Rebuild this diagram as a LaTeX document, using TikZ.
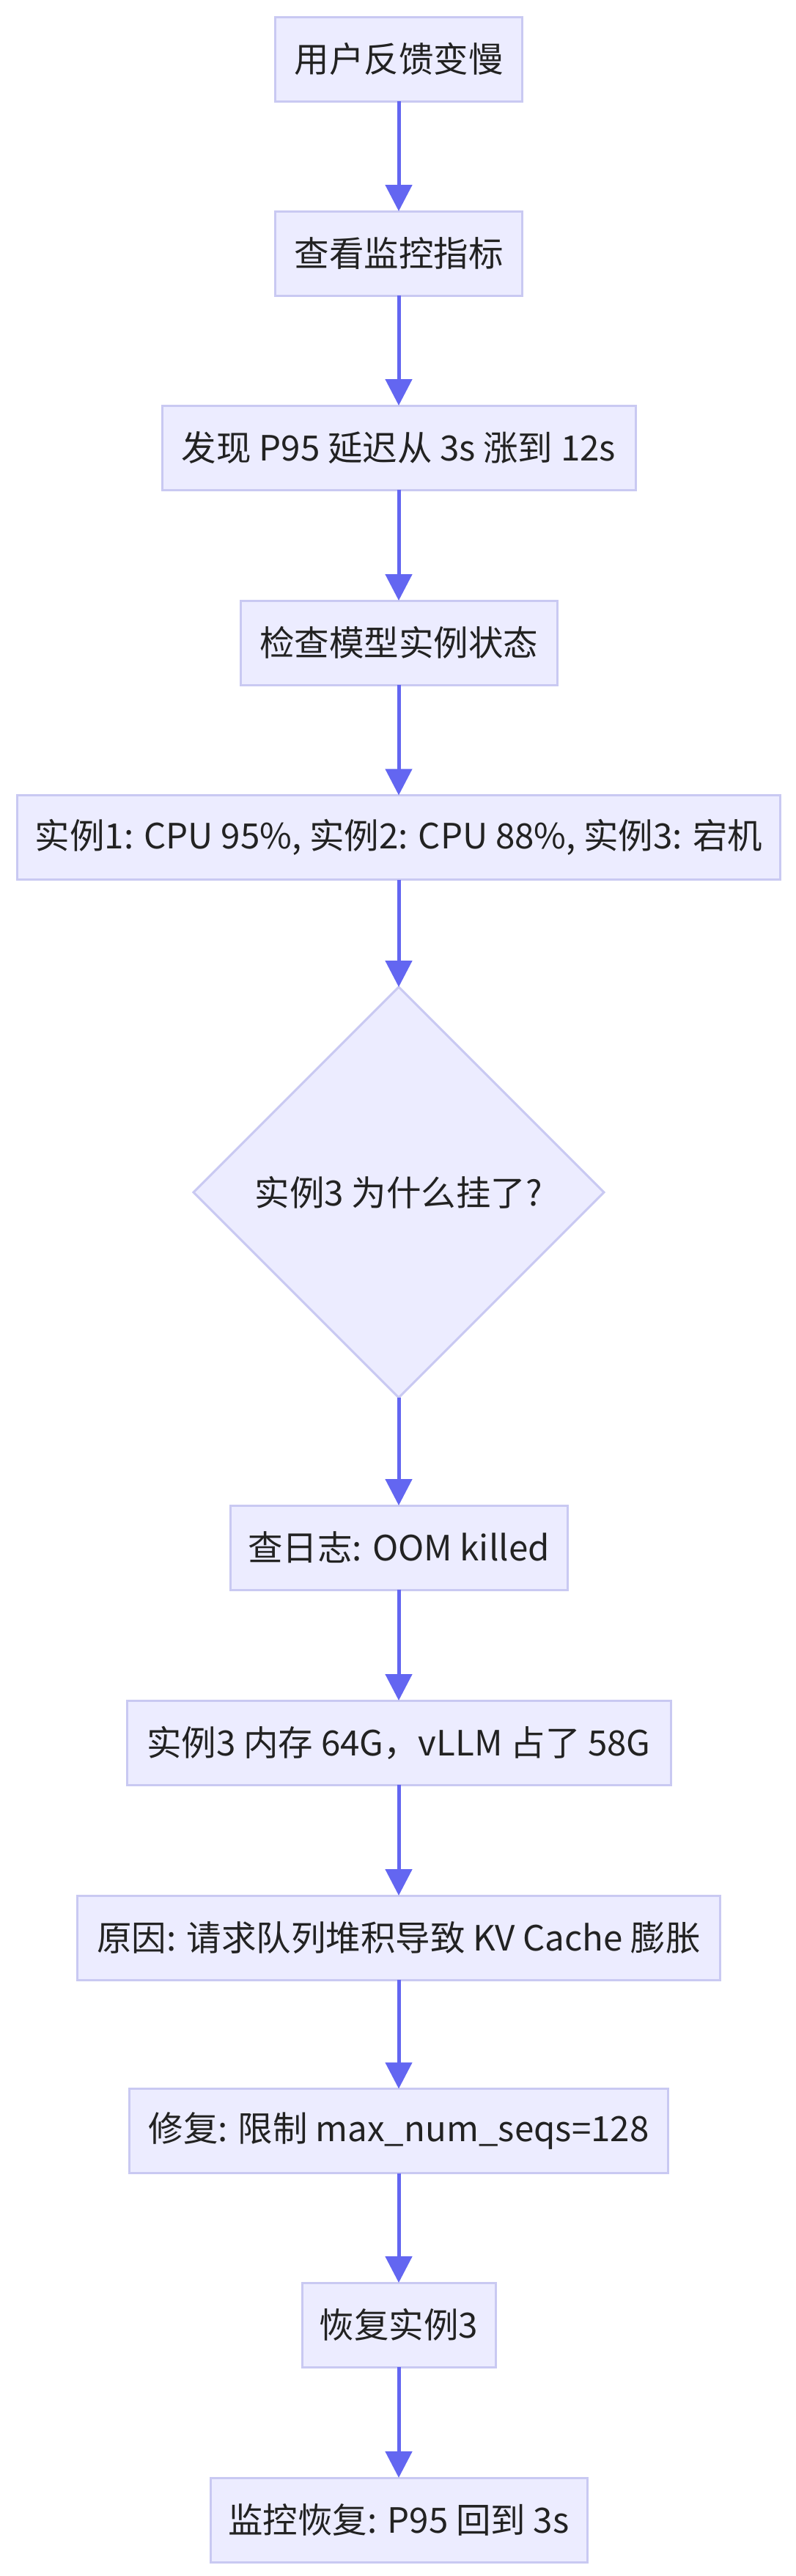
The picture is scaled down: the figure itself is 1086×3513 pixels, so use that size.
\documentclass[tikz,border=0pt]{standalone}
\usepackage{fontspec}
\setmainfont{Noto Sans CJK SC}
\usetikzlibrary{arrows.meta,shapes.geometric}
\definecolor{nodefill}{HTML}{ECECFF}
\definecolor{nodeline}{HTML}{C9C9F2}
\definecolor{arrowcol}{HTML}{6366F1}
\definecolor{txt}{HTML}{222222}
\tikzset{
  stepbox/.style={draw=nodeline, fill=nodefill, line width=3pt, rectangle, minimum height=115pt, inner sep=0pt, outer sep=0pt, text=txt, font=\fontsize{47.5}{56}\selectfont},
  decide/.style={draw=nodeline, fill=nodefill, line width=3pt, diamond, aspect=1, minimum width=560pt, minimum height=560pt, inner sep=0pt, outer sep=0pt, text=txt, font=\fontsize{47.5}{56}\selectfont},
  flow/.style={draw=arrowcol, line width=5pt, -{Triangle[width=36pt,length=36pt]}}
}
\begin{document}
\begin{tikzpicture}[x=1pt,y=-1pt]
\useasboundingbox (0,0) rectangle (1086,3513);
\node[stepbox, minimum width=337pt] (n1) at (544,80.5) {用户反馈变慢};
\node[stepbox, minimum width=337pt] (n2) at (544,345.5) {查看监控指标};
\node[stepbox, minimum width=646pt] (n3) at (544,610.5) {发现 P95 延迟从 3s 涨到 12s};
\node[stepbox, minimum width=432pt] (n4) at (544,876.5) {检查模型实例状态};
\node[stepbox, minimum width=1041pt] (n5) at (544,1142) {实例1: CPU 95\%, 实例2: CPU 88\%, 实例3: 宕机};
\node[decide] (d) at (544,1626) {实例3 为什么挂了?};
\node[stepbox, minimum width=460pt] (n6) at (544,2110.5) {查日志: OOM killed};
\node[stepbox, minimum width=742pt] (n7) at (544,2376.5) {实例3 内存 64G，vLLM 占了 58G};
\node[stepbox, minimum width=877pt] (n8) at (544,2642.5) {原因: 请求队列堆积导致 KV Cache 膨胀};
\node[stepbox, minimum width=735pt] (n9) at (544,2906) {修复: 限制 max\_num\_seqs=128};
\node[stepbox, minimum width=264pt] (n10) at (544,3170.5) {恢复实例3};
\node[stepbox, minimum width=514pt] (n11) at (544,3436.5) {监控恢复: P95 回到 3s};
\draw[flow] (n1) -- (n2);
\draw[flow] (n2) -- (n3);
\draw[flow] (n3) -- (n4);
\draw[flow] (n4) -- (n5);
\draw[flow] (n5) -- (d);
\draw[flow] (d) -- (n6);
\draw[flow] (n6) -- (n7);
\draw[flow] (n7) -- (n8);
\draw[flow] (n8) -- (n9);
\draw[flow] (n9) -- (n10);
\draw[flow] (n10) -- (n11);
\end{tikzpicture}
\end{document}
